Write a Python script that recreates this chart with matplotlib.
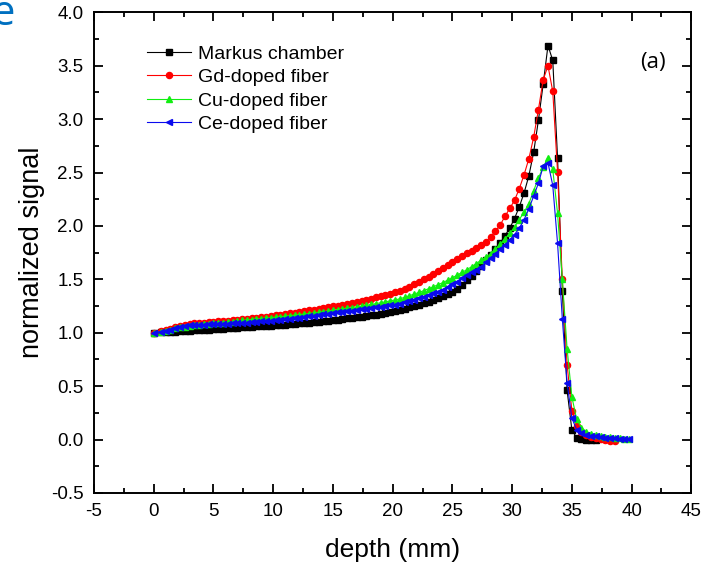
import numpy as np
import matplotlib
matplotlib.use("Agg")
import matplotlib.pyplot as plt
from matplotlib.ticker import MultipleLocator

plt.rcParams['font.family'] = ['Liberation Sans', 'DejaVu Sans']
plt.rcParams['axes.unicode_minus'] = False

# depth grid (mm), shared by all series
depth = [0.0, 0.6, 1.0, 1.4, 1.8, 2.2, 2.6, 3.0, 3.4, 3.8,
         4.2, 4.6, 5.0, 5.4, 5.8, 6.2, 6.6, 7.0, 7.4, 7.8,
         8.2, 8.6, 9.0, 9.4, 9.8, 10.2, 10.6, 11.0, 11.4, 11.8,
         12.2, 12.6, 13.0, 13.4, 13.8, 14.2, 14.6, 15.0, 15.4, 15.8,
         16.2, 16.6, 17.0, 17.4, 17.8, 18.2, 18.6, 19.0, 19.4, 19.8,
         20.2, 20.6, 21.0, 21.4, 21.8, 22.2, 22.6, 23.0, 23.4, 23.8,
         24.2, 24.6, 25.0, 25.4, 25.8, 26.2, 26.6, 27.0, 27.4, 27.8,
         28.2, 28.6, 29.0, 29.4, 29.8, 30.2, 30.6, 31.0, 31.4, 31.8,
         32.2, 32.6, 33.0, 33.4, 33.8, 34.2, 34.6, 35.0, 35.4, 35.8,
         36.2, 36.6, 37.0, 37.4, 37.8, 38.2, 38.6, 39.0, 39.4, 39.8]

markus = [1.000, 1.003, 1.006, 1.009, 1.011, 1.014, 1.017, 1.020, 1.022, 1.025,
          1.028, 1.030, 1.033, 1.036, 1.039, 1.042, 1.045, 1.048, 1.050, 1.053,
          1.056, 1.059, 1.062, 1.064, 1.067, 1.070, 1.073, 1.077, 1.080, 1.084,
          1.088, 1.092, 1.096, 1.100, 1.104, 1.109, 1.113, 1.118, 1.123, 1.128,
          1.134, 1.139, 1.145, 1.150, 1.156, 1.162, 1.168, 1.176, 1.183, 1.191,
          1.200, 1.213, 1.225, 1.237, 1.249, 1.260, 1.275, 1.290, 1.308, 1.325,
          1.340, 1.360, 1.385, 1.410, 1.450, 1.490, 1.530, 1.575, 1.625, 1.680,
          1.730, 1.780, 1.840, 1.910, 1.980, 2.070, 2.180, 2.310, 2.470, 2.690,
          2.990, 3.330, 3.690, 3.550, 2.640, 1.390, 0.460, 0.090, 0.016, 0.004,
          0.000, 0.000, -0.002]

gd = [1.000, 1.012, 1.025, 1.037, 1.050, 1.062, 1.073, 1.082, 1.088, 1.092,
      1.095, 1.098, 1.102, 1.106, 1.110, 1.114, 1.118, 1.123, 1.128, 1.132,
      1.137, 1.142, 1.147, 1.152, 1.158, 1.164, 1.170, 1.176, 1.182, 1.189,
      1.196, 1.203, 1.210, 1.217, 1.224, 1.231, 1.239, 1.247, 1.255, 1.263,
      1.272, 1.281, 1.290, 1.300, 1.310, 1.320, 1.331, 1.342, 1.354, 1.366,
      1.378, 1.392, 1.410, 1.430, 1.452, 1.475, 1.500, 1.525, 1.552, 1.580,
      1.608, 1.635, 1.662, 1.690, 1.717, 1.745, 1.768, 1.792, 1.818, 1.850,
      1.900, 1.950, 2.010, 2.090, 2.165, 2.240, 2.350, 2.480, 2.630, 2.830,
      3.090, 3.370, 3.500, 3.260, 2.510, 1.500, 0.700, 0.270, 0.130, 0.070,
      0.040, 0.022, 0.010, 0.002, -0.006, -0.012, -0.016]

cu = [1.000, 1.010, 1.020, 1.030, 1.040, 1.050, 1.058, 1.065, 1.070, 1.074,
      1.078, 1.082, 1.087, 1.091, 1.096, 1.100, 1.105, 1.110, 1.115, 1.120,
      1.124, 1.128, 1.133, 1.137, 1.141, 1.146, 1.150, 1.155, 1.160, 1.165,
      1.170, 1.175, 1.180, 1.186, 1.192, 1.198, 1.204, 1.210, 1.216, 1.222,
      1.229, 1.236, 1.243, 1.250, 1.257, 1.265, 1.273, 1.281, 1.290, 1.299,
      1.308, 1.318, 1.332, 1.347, 1.362, 1.378, 1.395, 1.412, 1.430, 1.450,
      1.470, 1.492, 1.515, 1.540, 1.565, 1.590, 1.618, 1.648, 1.680, 1.710,
      1.740, 1.780, 1.830, 1.880, 1.930, 1.990, 2.060, 2.130, 2.210, 2.330,
      2.450, 2.550, 2.640, 2.530, 2.120, 1.500, 0.850, 0.400, 0.190, 0.110,
      0.075, 0.055, 0.042, 0.033, 0.026, 0.020, 0.016, 0.012, 0.009, 0.006]

ce = [1.000, 1.010, 1.020, 1.030, 1.040, 1.050, 1.060, 1.068, 1.072, 1.074,
      1.076, 1.078, 1.080, 1.082, 1.084, 1.086, 1.088, 1.090, 1.093, 1.096,
      1.099, 1.102, 1.106, 1.110, 1.114, 1.118, 1.122, 1.127, 1.132, 1.137,
      1.142, 1.148, 1.154, 1.160, 1.166, 1.172, 1.178, 1.184, 1.190, 1.196,
      1.202, 1.208, 1.214, 1.220, 1.226, 1.232, 1.238, 1.244, 1.250, 1.256,
      1.262, 1.272, 1.284, 1.296, 1.310, 1.324, 1.338, 1.352, 1.368, 1.385,
      1.405, 1.430, 1.455, 1.480, 1.510, 1.540, 1.565, 1.590, 1.615, 1.660,
      1.700, 1.740, 1.785, 1.825, 1.870, 1.920, 1.980, 2.060, 2.160, 2.280,
      2.400, 2.560, 2.590, 2.380, 1.840, 1.130, 0.530, 0.200, 0.093, 0.062,
      0.047, 0.037, 0.030, 0.024, 0.019, 0.014, 0.010, 0.007, 0.004, 0.002]

labels = ["Markus chamber", "Gd-doped fiber", "Cu-doped fiber", "Ce-doped fiber"]
series = [markus, gd, cu, ce]
colors = ["#000000", "#ff0000", "#11ee11", "#0a0aee"]
markers = ["s", "o", "^", "<"]

fig = plt.figure(figsize=(7.12, 5.64), dpi=100)
ax = fig.add_axes([0.132, 0.126, 0.839, 0.852])

for lab, y, c, m in zip(labels, series, colors, markers):
    ax.plot(depth[:len(y)], y, color=c, lw=0.8, marker=m, ms=4.4,
            mec=c, mfc=c, label=lab)

ax.set_xlim(-5, 45)
ax.set_ylim(-0.5, 4.0)
ax.xaxis.set_major_locator(MultipleLocator(5))
ax.xaxis.set_minor_locator(MultipleLocator(2.5))
ax.yaxis.set_major_locator(MultipleLocator(0.5))
ax.yaxis.set_minor_locator(MultipleLocator(0.25))
ax.yaxis.set_major_formatter(matplotlib.ticker.FormatStrFormatter('%.1f'))
ax.tick_params(which='both', direction='in', top=True, right=True, width=1.3)
ax.tick_params(which='major', length=6.5, labelsize=13.5, pad=7.5)
ax.tick_params(which='minor', length=3.8)
for s in ax.spines.values():
    s.set_linewidth(1.4)

ax.set_xlabel("depth (mm)", fontsize=19, labelpad=13)
ax.set_ylabel("normalized signal", fontsize=19.5, labelpad=4)

leg = ax.legend(loc='upper left', bbox_to_anchor=(0.075, 0.948), frameon=False,
                fontsize=14, handlelength=2.3, handletextpad=0.35,
                labelspacing=0.3, borderaxespad=0)

ax.text(0.935, 0.895, "(a)", transform=ax.transAxes, fontsize=16,
        family=['Open Sans', 'DejaVu Sans'], ha='center', va='center')
fig.text(-0.012, 0.955, "e", color="#0070c0", fontsize=30,
         family=['Open Sans', 'DejaVu Sans'])

fig.savefig("out.png", dpi=100)
